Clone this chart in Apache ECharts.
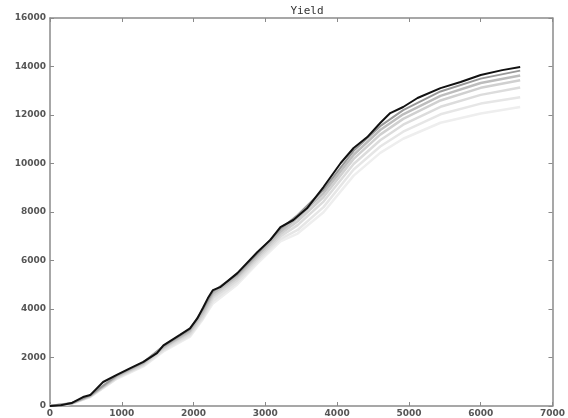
<!DOCTYPE html>
<html><head><meta charset="utf-8">
<script src="https://cdn.jsdelivr.net/npm/echarts@6/dist/echarts.min.js"></script>
<style>html,body{margin:0;padding:0;background:#fff}#c{width:568px;height:418px}</style>
</head><body><div id="c"></div>
<script>
var xs = [0,300,560,930,1300,1580,1950,2130,2270,2610,2890,3210,3450,3810,4230,4600,4920,5440,6000,6550];
var dark = [0,120,450,1280,1820,2500,3200,4040,4780,5480,6350,7380,7960,9030,10640,11670,12330,13110,13650,13980];
var l1 = [0,115,440,1260,1800,2470,3160,3980,4720,5430,6290,7300,7880,8920,10520,11540,12200,12970,13500,13830];
var l2 = [0,110,420,1230,1770,2430,3100,3880,4640,5360,6210,7200,7760,8780,10360,11380,12030,12790,13320,13630];
var l3 = [0,105,405,1200,1740,2390,3040,3780,4550,5280,6130,7090,7620,8620,10190,11190,11840,12600,13120,13430];
var l4 = [0,100,390,1170,1700,2340,2970,3680,4450,5190,6050,6990,7460,8430,9980,10960,11600,12340,12830,13130];
var l5 = [0,95,380,1140,1660,2290,2910,3620,4330,5090,5960,6880,7260,8200,9750,10700,11310,12030,12470,12730];
var l6 = [0,90,370,1120,1630,2250,2860,3580,4230,5010,5880,6790,7110,7990,9500,10440,11020,11680,12060,12330];
// detailed dark line
var dxs = [0,150,300,460,560,740,930,1120,1300,1490,1580,1810,1950,2050,2130,2200,2270,2370,2610,2890,3070,3210,3390,3580,3810,4050,4230,4420,4600,4740,4920,5120,5440,5720,6000,6300,6550];
var dys = [0,30,120,370,450,990,1280,1560,1820,2180,2500,2930,3200,3600,4040,4450,4780,4900,5480,6350,6850,7380,7670,8150,9030,10020,10640,11090,11670,12080,12330,12700,13110,13360,13650,13850,13980];
var xTicks = [0,1000,2000,3000,4000,5000,6000,7000];
var yTicks = [0,2000,4000,6000,8000,10000,12000,14000,16000];

function pairs(a,b){return a.map(function(v,i){return [v,b[i]];});}
var lights = [
  {d:l6,c:'#eeeeee',w:2.5},
  {d:l5,c:'#e6e6e6',w:2.5},
  {d:l4,c:'#dcdcdc',w:2.5},
  {d:l3,c:'#d0d0d0',w:2.5},
  {d:l2,c:'#bdbdbd',w:2.5},
  {d:l1,c:'#999999',w:2}
];
var series = lights.map(function(s){
  return {type:'line',xAxisIndex:0,yAxisIndex:0,data:pairs(xs,s.d),showSymbol:false,lineStyle:{color:s.c,width:s.w},silent:true,z:2};
});
series.push({type:'line',xAxisIndex:0,yAxisIndex:0,data:pairs(dxs,dys),showSymbol:false,lineStyle:{color:'#111',width:2},z:3});

var labelStyle = {fontFamily:'DejaVu Sans',fontSize:9,fontWeight:'bold',color:'#555',formatter:function(v){return String(v);}};
var ax = {show:true,onZero:false,lineStyle:{color:'#8a8a8a',width:1.5}};
var tk = {show:true,inside:true,length:4,lineStyle:{color:'#8a8a8a'}};
var chart = echarts.init(document.getElementById('c'),null,{renderer:'canvas'});
chart.setOption({
  animation:false,
  backgroundColor:'#fff',
  title:{text:'Yield',left:302,top:1,textAlign:'center',textStyle:{fontFamily:'DejaVu Sans Mono',fontSize:11,fontWeight:'normal',color:'#333'}},
  grid:{left:50,right:14,top:18,bottom:12,containLabel:false},
  xAxis:[
    {type:'value',min:xTicks[0],max:xTicks[xTicks.length-1],interval:1000,position:'bottom',
     axisLine:ax,axisTick:tk,splitLine:{show:false},
     axisLabel:Object.assign({margin:3},labelStyle)},
    {type:'value',min:xTicks[0],max:xTicks[xTicks.length-1],interval:1000,position:'top',
     axisLine:ax,axisTick:tk,splitLine:{show:false},axisLabel:{show:false}}
  ],
  yAxis:[
    {type:'value',min:yTicks[0],max:yTicks[yTicks.length-1],interval:2000,position:'left',
     axisLine:ax,axisTick:tk,splitLine:{show:false},
     axisLabel:Object.assign({margin:4},labelStyle)},
    {type:'value',min:yTicks[0],max:yTicks[yTicks.length-1],interval:2000,position:'right',
     axisLine:ax,axisTick:tk,splitLine:{show:false},axisLabel:{show:false}}
  ],
  series:series
});
</script></body></html>
